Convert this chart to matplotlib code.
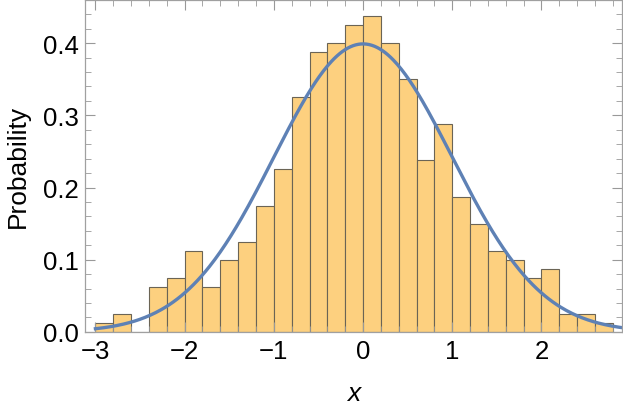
import matplotlib.pyplot as plt
import numpy as np
from matplotlib.ticker import MultipleLocator

plt.rcParams['font.family'] = ['Liberation Sans', 'DejaVu Sans']

# histogram data: 400 samples, bins of width 0.2 from -3.0 to 2.8
bin_edges = np.round(np.arange(-3.0, 2.8 + 1e-9, 0.2), 2)
counts = [1, 2, 0, 5, 6, 9, 5, 8, 10, 14, 18, 26, 31, 32, 34,
          35, 32, 28, 19, 23, 15, 12, 9, 8, 6, 7, 2, 2, 1]
n_total = 400
bin_width = 0.2

# normal distribution parameters
mu = 0.0
sigma = 1.0

density = np.array(counts) / (n_total * bin_width)

fig = plt.figure(figsize=(6.23, 4.10), dpi=100)
ax = fig.add_axes([0.136, 0.188, 0.862, 0.81])

ax.bar(bin_edges[:-1], density, width=bin_width, align='edge',
       color='#FDD07F', edgecolor='#6b6455', linewidth=0.8)

x = np.linspace(-3, 3, 400)
pdf = np.exp(-(x - mu) ** 2 / (2 * sigma ** 2)) / (sigma * np.sqrt(2 * np.pi))
ax.plot(x, pdf, color='#5E81B5', linewidth=2.4)

ax.set_xlim(-3.12, 2.9)
ax.set_ylim(0, 0.46)

ax.xaxis.set_major_locator(MultipleLocator(1))
ax.xaxis.set_minor_locator(MultipleLocator(0.2))
ax.yaxis.set_major_locator(MultipleLocator(0.1))
ax.yaxis.set_minor_locator(MultipleLocator(0.02))
ax.yaxis.set_major_formatter(plt.FuncFormatter(lambda v, p: f'{v:.1f}'))
ax.xaxis.set_major_formatter(plt.FuncFormatter(lambda v, p: f'{v:.0f}'.replace('-', '\u2212')))

ax.tick_params(which='both', direction='in', top=True, right=True,
               color='#999999', labelsize=18.5, labelcolor='black')
ax.tick_params(which='major', length=7, width=0.8)
ax.tick_params(which='minor', length=4, width=0.6)
ax.tick_params(axis='x', pad=5)
ax.tick_params(axis='y', pad=4)

for sp in ax.spines.values():
    sp.set_color('#a0a0a0')
    sp.set_linewidth(0.9)

ax.set_xlabel('x', fontsize=19, style='italic', labelpad=13)
ax.set_ylabel('Probability', fontsize=19, labelpad=10)

fig.savefig('out.png', dpi=100)
